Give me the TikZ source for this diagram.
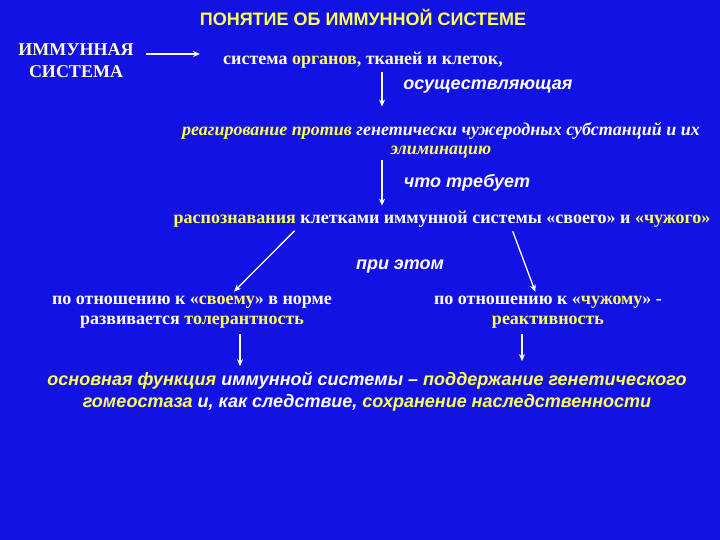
\documentclass[tikz,border=0pt]{standalone}
\usepackage{fontspec}
\setmainfont{Liberation Serif}
\setsansfont{Liberation Sans}
\usetikzlibrary{arrows.meta}
\definecolor{bgblue}{RGB}{18,18,228}
\definecolor{ylw}{RGB}{255,255,90}
\definecolor{pale}{RGB}{255,255,205}
\tikzset{
  arr/.style={draw=white,line width=1.3pt,-{Stealth[length=7pt,width=6pt]}},
  serifb/.style={font=\fontsize{18}{20}\selectfont\rmfamily\bfseries,text=white,inner sep=2pt,align=center},
  serifbi/.style={font=\fontsize{18}{19}\selectfont\rmfamily\bfseries\itshape,text=white,inner sep=2pt,align=center},
  sansbi/.style={font=\fontsize{18}{22}\selectfont\sffamily\bfseries\itshape,text=white,inner sep=2pt,align=center},
}
\newcommand{\Y}[1]{\textcolor{ylw}{#1}}
\begin{document}
\begin{tikzpicture}[x=1pt,y=-1pt]
\fill[bgblue] (0,0) rectangle (720,540);
\useasboundingbox (0,0) rectangle (720,540);
\node[font=\fontsize{18}{20}\selectfont\sffamily\bfseries,text=ylw] (title) at (363,17) {ПОНЯТИЕ ОБ ИММУННОЙ СИСТЕМЕ};
\node[serifb,font=\fontsize{18}{22}\selectfont\rmfamily\bfseries,text=pale] (imm) at (76,61) {ИММУННАЯ\\СИСТЕМА};
\node[serifb,text=pale] (sys) at (363,60) {система \Y{органов,} тканей и клеток,};
\node[sansbi] (osu) at (488,87) {осуществляющая};
\node[serifbi] (reag) at (441,140.5) {\Y{реагирование против} генетически чужеродных субстанций и их\\\Y{элиминацию}};
\node[sansbi] (chto) at (467,183) {что требует};
\node[serifb] (rasp) at (442,219) {\Y{распознавания} клетками иммунной системы \textcolor{pale}{«своего»} и \Y{«чужого»}};
\node[sansbi] (pri) at (400,267) {при этом};
\node[serifb] (left) at (192,312) {по отношению к «\Y{своему}» в норме\\развивается \Y{толерантность}};
\node[serifb] (right) at (548,312) {по отношению к «\Y{чужому}» -\\\Y{реактивность}};
\node[sansbi] (fin) at (367,392) {\Y{основная функция} иммунной системы – \Y{поддержание генетического}\\\Y{гомеостаза} и, как следствие, \Y{сохранение наследственности}};
\coordinate (ax1) at (382,0);
\coordinate (ax2) at (240,0);
\coordinate (ax3) at (522,0);
\draw[arr,shorten >=21pt,shorten <=10pt] ([yshift=7pt]imm.east) -- ([yshift=7pt]imm.east -| sys.west);
\draw[arr,shorten <=2pt,shorten >=14pt] (ax1 |- sys.south) -- (ax1 |- reag.north);
\draw[arr,shorten >=3pt] (ax1 |- reag.south) -- (ax1 |- rasp.north);
\draw[arr,shorten <=2pt,shorten >=3pt] ([xshift=-146pt]rasp.south) -- ([xshift=40pt]left.north);
\draw[arr,shorten <=2pt,shorten >=2pt] ([xshift=70pt]rasp.south) -- ([xshift=-12pt]right.north);
\draw[arr,shorten <=4pt,shorten >=4pt] (ax2 |- left.south) -- (ax2 |- fin.north);
\draw[arr,shorten <=4pt,shorten >=9pt] (ax3 |- right.south) -- (ax3 |- fin.north);
\end{tikzpicture}
\end{document}
